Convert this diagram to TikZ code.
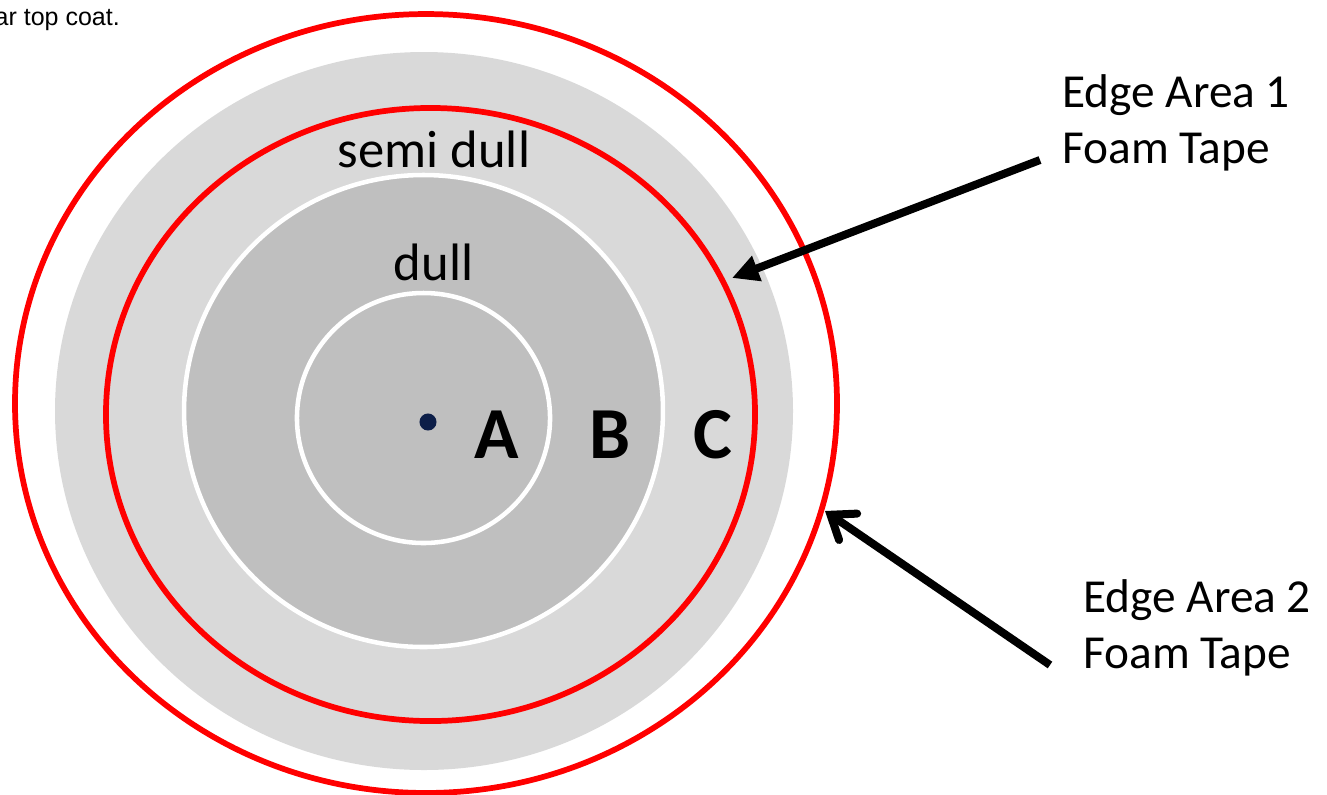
\documentclass[tikz,border=0pt]{standalone}
\usepackage{fontspec}
\setmainfont{Carlito}
\newfontfamily\notefont{Liberation Sans}
\usetikzlibrary{arrows.meta}
\definecolor{zonelight}{HTML}{D9D9D9}
\definecolor{zonedark}{HTML}{BFBFBF}
\definecolor{centerdot}{HTML}{0C1E48}

\begin{document}
\begin{tikzpicture}[x=0.75pt,y=-0.75pt,
		redring/.style={draw=red, line width=4.3pt},
		zone/.style={fill=zonedark, draw=white, line width=3.4pt},
		zonelabel/.style={font=\fontsize{39.5}{47}\selectfont, anchor=base},
		bigletter/.style={font=\fontsize{55}{66}\selectfont\bfseries, anchor=base},
		edgelabel/.style={font=\fontsize{35.5}{42.5}\selectfont, align=left, anchor=west, inner sep=0pt},
		pointer/.style={line width=6pt}]
	\useasboundingbox (0,0) rectangle (1327,794);
	\node[font=\notefont\fontsize{18.75}{22}\selectfont, anchor=base east, inner sep=0pt] (topnote) at (120,25) {ar top coat.};
	\draw[redring] (426,403.5) ellipse [x radius=308.25pt, y radius=292.1pt];
	\fill[zonelight] (424,411) ellipse [x radius=276.75pt, y radius=269.25pt];
	\draw[redring] (430.5,414.5) ellipse [x radius=243.4pt, y radius=229.9pt];
	\draw[zone] (423.5,411) ellipse [x radius=179.6pt, y radius=177pt];
	\draw[zone] (423.5,418) ellipse [x radius=94.9pt, y radius=93.75pt];
	\fill[centerdot] (428,422) circle [radius=6.4pt];
	\node[zonelabel] (semidull) at (434,167) {semi dull};
	\node[zonelabel] (dull) at (433.5,280) {dull};
	\node[bigletter] (A) at (497,458) {A};
	\node[bigletter] (B) at (610,458) {B};
	\node[bigletter] (C) at (713,458) {C};
	\node[edgelabel] (edge1) at (1062,123) {Edge Area 1\\Foam Tape};
	\node[edgelabel] (edge2) at (1083,628) {Edge Area 2\\Foam Tape};
	\coordinate (edge1from) at (1040,160);
	\coordinate (edge1to) at (732,278);
	\coordinate (edge2from) at (1050,665);
	\coordinate (edge2to) at (825,511);
	\draw[pointer, -{Triangle[length=20pt,width=19pt]}] (edge1from) -- (edge1to);
	\draw[pointer, -{Straight Barb[length=16pt,width=24pt,line cap=round]}] (edge2from) -- (edge2to);
\end{tikzpicture}
\end{document}
